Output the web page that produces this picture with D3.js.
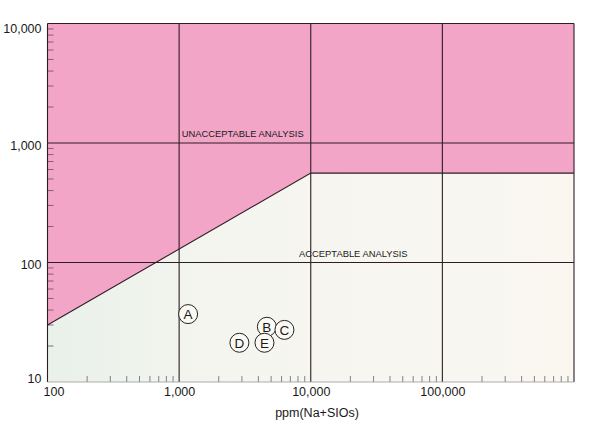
<!DOCTYPE html>
<html><head><meta charset="utf-8">
<script src="https://cdn.jsdelivr.net/npm/d3@7"></script>
<style>body{margin:0;background:#fff}svg{display:block}text{font-family:"Liberation Sans",Arial,sans-serif;fill:#1a1a1a}</style>
</head><body>
<svg id="c" width="600" height="433"></svg>
<script>
// data
const xDomain = [100, 1000000];
const yDomain = [10, 10000];
const xTickValues = [100, 1000, 10000, 100000];
const xTickLabels = ["100", "1,000", "10,000", "100,000"];
const yTickValues = [10, 100, 1000, 10000];
const yTickLabels = ["10", "100", "1,000", "10,000"];
const boundaryX = [100, 10000, 1000000];
const boundaryY = [30, 560, 560];
const sampleLabels = ["A", "B", "C", "D", "E"];
const sampleX = [1170, 4640, 6310, 2870, 4450];
const sampleY = [37, 29, 27.3, 21.3, 21.3];
const regionLabels = ["UNACCEPTABLE ANALYSIS", "ACCEPTABLE ANALYSIS"];
const regionLabelX = [1000, 7800];
const regionLabelY = [1130, 111];
const xTitle = "ppm(Na+SIOs)";

const svg = d3.select("#c");
const L = 47.5, R = 574, T = 23.5, B = 382;
const x = d3.scaleLog().domain(xDomain).range([L, R]);
const y = d3.scaleLog().domain(yDomain).range([B, T]);

const defs = svg.append("defs");
const g1 = defs.append("linearGradient").attr("id","acc").attr("x1","0").attr("x2","1").attr("y1","0").attr("y2","0");
g1.append("stop").attr("offset","0").attr("stop-color","#e9f1ea");
g1.append("stop").attr("offset","0.35").attr("stop-color","#f5f5ef");
g1.append("stop").attr("offset","1").attr("stop-color","#faf7f1");

// backgrounds
svg.append("rect").attr("x",L).attr("y",T).attr("width",R-L).attr("height",B-T).attr("fill","#f2a5c6");
const bpts = boundaryX.map((d,i)=>[x(d), y(boundaryY[i])]);
const area = d3.area().x(d=>d[0]).y0(B).y1(d=>d[1]);
svg.append("path").datum(bpts).attr("d", area).attr("fill","url(#acc)");

// minor ticks
const minorX = [];
for (let d=100; d<1000000; d*=10) for (let k=2;k<=9;k++) minorX.push(d*k);
svg.append("g").selectAll("line").data(minorX).join("line")
  .attr("x1",d=>x(d)).attr("x2",d=>x(d)).attr("y1",B).attr("y2",B-6)
  .attr("stroke","#666").attr("stroke-width",0.8);
const minorY = [];
for (let d=10; d<10000; d*=10) for (let k=2;k<=9;k++) minorY.push(d*k);
svg.append("g").selectAll("line").data(minorY).join("line")
  .attr("y1",d=>y(d)).attr("y2",d=>y(d)).attr("x1",L).attr("x2",L+6)
  .attr("stroke","#7a5a66").attr("stroke-width",0.9);

// grid lines
const lc = "#2e1d25";
svg.append("g").selectAll("line").data(xTickValues.slice(1)).join("line")
  .attr("x1",d=>x(d)).attr("x2",d=>x(d)).attr("y1",T).attr("y2",B)
  .attr("stroke",lc).attr("stroke-width",1.1);
svg.append("g").selectAll("line").data([100,1000]).join("line")
  .attr("y1",d=>y(d)).attr("y2",d=>y(d)).attr("x1",L).attr("x2",R)
  .attr("stroke",lc).attr("stroke-width",1.1);

// boundary line
svg.append("path").datum(bpts).attr("d", d3.line()).attr("fill","none").attr("stroke",lc).attr("stroke-width",1.1);

// border
svg.append("line").attr("x1",L).attr("x2",R).attr("y1",T).attr("y2",T).attr("stroke",lc).attr("stroke-width",1.1);
svg.append("line").attr("x1",L).attr("x2",L).attr("y1",T).attr("y2",B).attr("stroke",lc).attr("stroke-width",1.1);
svg.append("line").attr("x1",R).attr("x2",R).attr("y1",T).attr("y2",B).attr("stroke",lc).attr("stroke-width",1.1);
svg.append("line").attr("x1",L).attr("x2",R).attr("y1",B).attr("y2",B).attr("stroke","#9a9a9a").attr("stroke-width",0.8);

// axes labels
const xa = d3.axisBottom(x).tickValues(xTickValues).tickFormat((d,i)=>xTickLabels[i]).tickSize(0).tickPadding(5);
const xg = svg.append("g").attr("transform",`translate(0,${B})`).call(xa);
xg.select(".domain").remove();
xg.selectAll("text").attr("font-size",12.5).attr("fill","#1a1a1a").attr("font-family","Liberation Sans, Arial, sans-serif");
xg.selectAll(".tick").filter(d=>d===100).select("text").attr("dx",6);
const ya = d3.axisLeft(y).tickValues(yTickValues).tickFormat((d,i)=>yTickLabels[i]).tickSize(0).tickPadding(6);
const yg = svg.append("g").attr("transform",`translate(${L},0)`).call(ya);
yg.select(".domain").remove();
yg.selectAll("text").attr("font-size",12.5).attr("fill","#1a1a1a").attr("font-family","Liberation Sans, Arial, sans-serif");
yg.selectAll(".tick").filter(d=>d===10).select("text").attr("dy","0.0em");
yg.selectAll(".tick").filter(d=>d===1000).select("text").attr("dy","0.5em");
yg.selectAll(".tick").filter(d=>d===100).select("text").attr("dy","0.45em");
yg.selectAll(".tick").filter(d=>d===10000).select("text").attr("dy","0.75em");

svg.append("text").attr("x",317).attr("y",417).attr("text-anchor","middle").attr("font-size",12.5).text(xTitle);

// region labels
svg.selectAll(".rl").data(regionLabels).join("text").attr("class","rl")
  .attr("x",(d,i)=>x(regionLabelX[i])+2.5).attr("y",(d,i)=>y(regionLabelY[i]))
  .attr("font-size",9.4).attr("text-anchor","start").text(d=>d);

// samples
const sg = svg.append("g").selectAll("g").data(sampleLabels).join("g")
  .attr("transform",(d,i)=>`translate(${x(sampleX[i])},${y(sampleY[i])})`);
sg.append("circle").attr("r",9.5).attr("fill","#fbf9f4").attr("stroke","#222").attr("stroke-width",1);
sg.append("text").attr("text-anchor","middle").attr("dy","0.37em").attr("font-size",13.5).text(d=>d);
</script>
</body></html>
